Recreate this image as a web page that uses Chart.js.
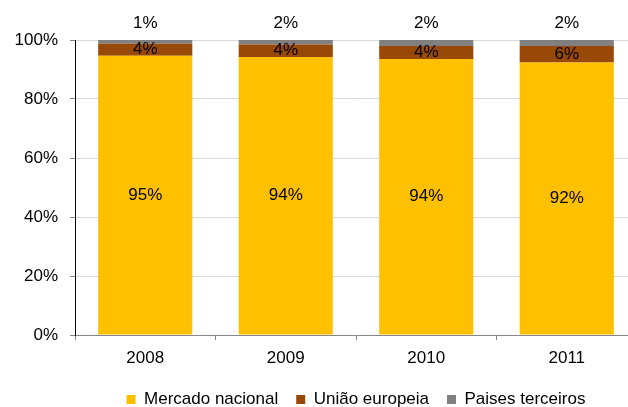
<!DOCTYPE html>
<html>
<head>
<meta charset="utf-8">
<script src="https://cdn.jsdelivr.net/npm/chart.js@4/dist/chart.umd.min.js"></script>
<style>
  html, body { margin: 0; padding: 0; background: #fff; overflow: hidden; }
  #wrap { position: relative; width: 640px; height: 407px; }
</style>
</head>
<body>
<div id="wrap"><canvas id="chart"></canvas></div>
<script>
// Data
const years = ['2008', '2009', '2010', '2011'];
const mercadoNacional = [94.7, 94.2, 93.6, 92.4];
const uniaoEuropeia = [4.0, 4.3, 4.4, 5.6];
const paisesTerceiros = [1.3, 1.5, 2.0, 2.0];
const yTicks = [0, 20, 40, 60, 80, 100];

const font = 'Liberation Sans, Arial, sans-serif';

// Percent labels: inside the two lower segments, above the bar for the top one
const labelPlugin = {
    id: 'labels',
    afterDatasetsDraw(chart) {
        const ctx = chart.ctx;
        ctx.save();
        ctx.font = '17px ' + font;
        ctx.fillStyle = '#000';
        ctx.textAlign = 'center';
        ctx.textBaseline = 'middle';
        chart.data.datasets.forEach((ds, i) => {
            chart.getDatasetMeta(i).data.forEach((bar, j) => {
                const txt = Math.round(ds.data[j]) + '%';
                const y = i === 2 ? bar.y - 17 : (bar.y + bar.base) / 2;
                ctx.fillText(txt, bar.x, y);
            });
        });
        ctx.restore();
    }
};

new Chart(document.getElementById('chart'), {
    type: 'bar',
    data: {
        labels: years,
        datasets: [
            { label: 'Mercado nacional', data: mercadoNacional, backgroundColor: '#FFC000' },
            { label: 'União europeia', data: uniaoEuropeia, backgroundColor: '#984807' },
            { label: 'Paises terceiros', data: paisesTerceiros, backgroundColor: '#808080' }
        ]
    },
    options: {
        responsive: true,
        maintainAspectRatio: false,
        animation: false,
        layout: { padding: { top: 40, bottom: 0, left: 0, right: 3 } },
        datasets: { bar: { categoryPercentage: 1, barPercentage: 0.67 } },
        plugins: {
            tooltip: { enabled: false },
            legend: {
                position: 'bottom',
                fullSize: false,
                maxHeight: 34,
                labels: {
                    boxWidth: 9,
                    boxHeight: 9,
                    padding: 18,
                    color: '#000',
                    font: { family: font, size: 17 }
                }
            }
        },
        scales: {
            x: {
                stacked: true,
                afterFit: s => { s.height = 38; },
                border: { color: '#888', width: 1 },
                grid: { drawOnChartArea: false, drawTicks: true, tickLength: 5, color: '#888' },
                ticks: { color: '#000', padding: 8, font: { family: font, size: 17 } }
            },
            y: {
                stacked: true,
                min: 0,
                max: 100,
                afterFit: s => { s.width = 75; },
                afterBuildTicks: s => { s.ticks = yTicks.map(v => ({ value: v })); },
                border: { color: '#000', width: 1 },
                grid: { color: '#d9d9d9', tickLength: 5, tickColor: '#888' },
                ticks: { color: '#000', padding: 12, font: { family: font, size: 17 }, callback: v => v + '%' }
            }
        }
    },
    plugins: [labelPlugin]
});
</script>
</body>
</html>
